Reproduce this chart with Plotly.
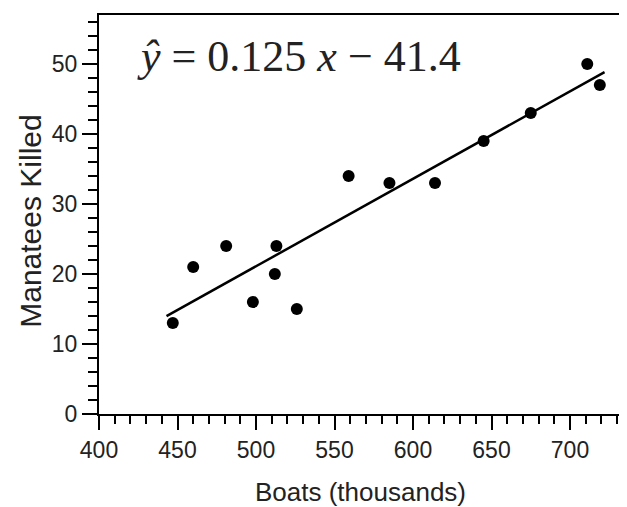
import plotly.graph_objects as go

boats = [447, 460, 481, 498, 513, 512, 526, 559, 585, 614, 645, 675, 711, 719]
killed = [13, 21, 24, 16, 24, 20, 15, 34, 33, 33, 39, 43, 50, 47]
slope = 0.125
intercept = -41.4
line_x = [443, 722]
line_y = [slope * v + intercept for v in line_x]
x_ticks = [400, 450, 500, 550, 600, 650, 700]
y_ticks = [0, 10, 20, 30, 40, 50]

fig = go.Figure()
fig.add_trace(go.Scatter(x=line_x, y=line_y, mode="lines",
                         line=dict(color="black", width=2.5), showlegend=False))
fig.add_trace(go.Scatter(x=boats, y=killed, mode="markers",
                         marker=dict(color="black", size=12), showlegend=False))

tickfont = dict(family="Liberation Sans, Arial", size=23, color="#222")
fig.update_layout(
    width=619, height=499,
    margin=dict(l=91, r=0, t=7, b=93),
    plot_bgcolor="white", paper_bgcolor="white",
    xaxis=dict(range=[400, 736.3], tickvals=x_ticks, ticks="outside", ticklen=14, tickwidth=2,
               tickcolor="black", showline=True, linecolor="black", linewidth=2, mirror=True,
               showgrid=False, zeroline=False, tickfont=tickfont, automargin=False,
               minor=dict(dtick=10, ticks="outside", ticklen=8, tickwidth=1.5, tickcolor="black")),
    yaxis=dict(range=[0, 57], tickvals=y_ticks, ticks="outside", ticklen=15, tickwidth=2,
               tickcolor="black", showline=True, linecolor="black", linewidth=2, mirror=False,
               showgrid=False, zeroline=False, tickfont=tickfont, automargin=False,
               minor=dict(dtick=2, ticks="outside", ticklen=9, tickwidth=1.5, tickcolor="black")),
    annotations=[
        dict(x=0.068, y=0.897, xref="paper", yref="paper", xanchor="left", yanchor="middle",
             text="<i>ŷ</i> = 0.125 <i>x</i> − 41.4", showarrow=False,
             font=dict(family="Liberation Serif, Times New Roman", size=44, color="#222")),
        dict(x=0.496, y=-0.195, xref="paper", yref="paper", xanchor="center", yanchor="middle",
             text="Boats (thousands)", showarrow=False,
             font=dict(family="Liberation Sans, Arial", size=26, color="#222")),
        dict(x=-0.129, y=0.484, xref="paper", yref="paper", xanchor="center", yanchor="middle",
             text="Manatees Killed", showarrow=False, textangle=-90,
             font=dict(family="Liberation Sans, Arial", size=30, color="#222")),
    ],
)
fig.write_html("out.html")
